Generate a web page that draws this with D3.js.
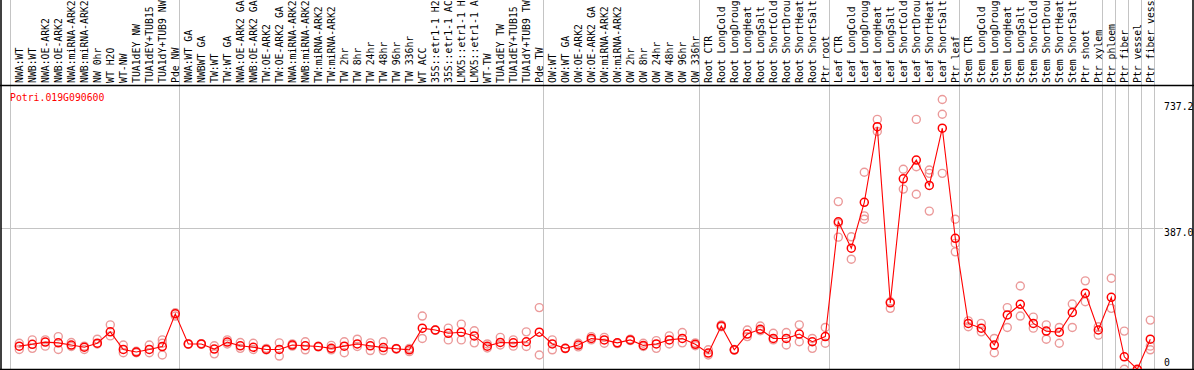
<!DOCTYPE html>
<html>
<head>
<meta charset="utf-8">
<script src="https://cdn.jsdelivr.net/npm/d3@7"></script>
<style>
  html, body { margin: 0; padding: 0; background: #fff; overflow: hidden; }
  svg { display: block; }
  text { font-family: "DejaVu Sans Mono", monospace; font-size: 9.8px; }
</style>
</head>
<body>
<div id="chart"></div>
<script>
// gene shown in the plot
const geneName = "Potri.019G090600";

// sample names, one column each (as printed in the header)
const samples = [
  "NWA:WT", "NWB:WT", "NWA:OE-ARK2", "NWB:OE-ARK2", "NWA:miRNA-ARK2", "NWB:miRNA-ARK2",
  "NW 0hr", "WT H2O", "WT-NW", "TUA1dEY NW", "TUA1dEY+TUB15", "TUA1dY+TUB9 NW", "Pde NW",
  "NWA:WT GA", "NWBWT GA", "TW:WT", "TW:WT GA", "NWA:OE-ARK2 GA", "NWB:OE-ARK2 GA",
  "TW:OE-ARK2", "TW:OE-ARK2 GA", "NWA:miRNA-ARK2", "NWB:miRNA-ARK2", "TW:miRNA-ARK2",
  "TW:miRNA-ARK2", "TW 2hr", "TW 8hr", "TW 24hr", "TW 48hr", "TW 96hr", "TW 336hr",
  "WT ACC", "35S::etr1-1 H2", "35S::etr1-1 AC", "LMX5::etr1-1 H", "LMX5::etr1-1 A",
  "WT-TW", "TUA1dEY TW", "TUA1dEY+TUB15", "TUA1dY+TUB9 TW", "Pde TW",
  "OW:WT", "OW:WT GA", "OW:OE-ARK2", "OW:OE-ARK2 GA", "OW:miRNA-ARK2", "OW:miRNA-ARK2",
  "OW 2hr", "OW 8hr", "OW 24hr", "OW 48hr", "OW 96hr", "OW 336hr",
  "Root CTR", "Root LongCold", "Root LongDroug", "Root LongHeat", "Root LongSalt",
  "Root ShortCold", "Root ShortDrou", "Root ShortHeat", "Root ShortSalt", "Ptr root",
  "Leaf CTR", "Leaf LongCold", "Leaf LongDroug", "Leaf LongHeat", "Leaf LongSalt",
  "Leaf ShortCold", "Leaf ShortDrou", "Leaf ShortHeat", "Leaf ShortSalt", "Ptr leaf",
  "Stem CTR", "Stem LongCold", "Stem LongDroug", "Stem LongHeat", "Stem LongSalt",
  "Stem ShortCold", "Stem ShortDrou", "Stem ShortHeat", "Stem ShortSalt", "Ptr shoot",
  "Ptr xylem", "Ptr phloem", "Ptr fiber", "Ptr vessel", "Ptr fiber vess"
];

// mean expression per sample
const means = [
  65, 70, 76, 74, 68, 62, 73, 104, 56, 49, 56, 64, 153,
  71, 71, 57, 76, 66, 62, 56, 56, 68, 66, 64, 59, 65, 71, 66, 61, 58, 55,
  114, 109, 100, 103, 93, 65, 75, 74, 77, 103,
  71, 59, 68, 86, 82, 74, 82, 67, 71, 82, 86, 70,
  46, 120, 55, 98, 111, 86, 86, 98, 77, 91,
  404, 332, 457, 663, 183, 521, 572, 503, 659, 359,
  127, 114, 68, 150, 179, 127, 106, 103, 157, 209, 109,
  198, 36, 2, 84
];

// single replicate values per sample
const replicates = [
  [73, 56], [82, 59], [82, 65], [91, 56], [75, 64], [65, 56], [84, 71], [123, 93],
  [68, 47], [51, 47], [68, 47], [82, 73, 41], [156, 147],
  [71, 70], [72, 70], [66, 44], [82, 71], [75, 59], [73, 56], [59, 55], [74, 38],
  [71, 65], [77, 55], [65, 63], [67, 55], [77, 47], [84, 64], [74, 53], [77, 53],
  [59, 57], [50, 59],
  [147, 86], [109, 108], [114, 82], [125, 82], [107, 74], [71, 60], [89, 68], [82, 65],
  [104, 64], [170, 41],
  [82, 55], [59, 58], [73, 63], [91, 82], [89, 73], [74, 72], [80, 84], [73, 64],
  [80, 59], [93, 71], [102, 74], [74, 66],
  [55, 41], [123, 118], [56, 54], [109, 91], [120, 107], [100, 82], [102, 68],
  [123, 77], [86, 59], [116, 73],
  [459, 362, 400], [363, 302], [539, 420, 411], [683, 650], [168, 186], [547, 493],
  [683, 554, 479], [545, 536, 433], [737.2, 697, 536], [411, 345, 322],
  [134, 118], [127, 104], [86, 47], [170, 116], [229, 147], [144, 114], [123, 84],
  [116, 73], [180, 116], [243, 186], [118, 95],
  [250, 168], [106, 2], [0, 1], [136, 65, 55]
];

// first column of each sample group (last entry = end)
const groupStarts = [0, 13, 41, 53, 63, 73, 84, 85, 86, 87, 88];

// labels on the value axis
const yTicks = [0, 387.0, 737.2];
const gridTicks = [387.0];

const width = 1194, height = 370;
const headerBottom = 85.5, plotBottom = 369.5;

const svg = d3.select("#chart")
  .append("svg")
  .attr("width", width)
  .attr("height", height);

const x = d3.scaleBand()
  .domain(d3.range(samples.length))
  .range([10.5, 10.5 + 13 * samples.length]);
const cx = i => x(i) + 8.8;

const y = d3.scaleLinear()
  .domain([0, 737.2])
  .range([370, 99.5]);

svg.append("defs").append("clipPath")
  .attr("id", "plotclip")
  .append("rect")
    .attr("x", 1).attr("y", headerBottom)
    .attr("width", width - 2).attr("height", plotBottom - headerBottom - 0.5);

// group separators
svg.selectAll("line.sep")
  .data(groupStarts)
  .enter()
  .append("line")
    .attr("class", "sep")
    .attr("x1", d => x(0) + 13 * d)
    .attr("x2", d => x(0) + 13 * d)
    .attr("y1", 0)
    .attr("y2", plotBottom)
    .attr("stroke", "#c4c4c4")
    .attr("stroke-width", 1);

// horizontal grid
svg.selectAll("line.grid")
  .data(gridTicks)
  .enter()
  .append("line")
    .attr("class", "grid")
    .attr("x1", 1)
    .attr("x2", 1163)
    .attr("y1", d => Math.round(y(d)) + 0.5)
    .attr("y2", d => Math.round(y(d)) + 0.5)
    .attr("stroke", "#c4c4c4")
    .attr("stroke-width", 1);

// frame
svg.append("line")
  .attr("x1", 0).attr("x2", width)
  .attr("y1", headerBottom).attr("y2", headerBottom)
  .attr("stroke", "#000").attr("stroke-width", 1.5);
svg.append("line")
  .attr("x1", 1).attr("x2", 1)
  .attr("y1", 0).attr("y2", height)
  .attr("stroke", "#000").attr("stroke-width", 1.5);
svg.append("line")
  .attr("x1", width - 1).attr("x2", width - 1)
  .attr("y1", 0).attr("y2", height)
  .attr("stroke", "#000").attr("stroke-width", 1.5);
svg.append("line")
  .attr("x1", 0).attr("x2", width)
  .attr("y1", plotBottom).attr("y2", plotBottom)
  .attr("stroke", "#000").attr("stroke-width", 1.5);

// sample labels, vertical, reading upward from the header line
svg.selectAll("text.sample")
  .data(samples)
  .enter()
  .append("text")
    .attr("class", "sample")
    .attr("transform", (d, i) => "translate(" + (cx(i) + 3.6) + "," + 83 + ") rotate(-90)")
    .attr("text-anchor", "start")
    .attr("fill", "#000")
    .text(d => d);

const plot = svg.append("g").attr("clip-path", "url(#plotclip)");

// replicate points
const repPoints = [];
replicates.forEach((r, i) => r.forEach(v => repPoints.push({i: i, v: v})));
plot.selectAll("circle.rep")
  .data(repPoints)
  .enter()
  .append("circle")
    .attr("class", "rep")
    .attr("cx", d => cx(d.i))
    .attr("cy", d => y(d.v))
    .attr("r", 4)
    .attr("fill", "none")
    .attr("stroke", "#eb9a9a")
    .attr("stroke-width", 1.4);

// mean line
const line = d3.line()
  .x((d, i) => cx(i))
  .y(d => y(d));
plot.append("path")
  .datum(means)
  .attr("d", line)
  .attr("fill", "none")
  .attr("stroke", "#ff0000")
  .attr("stroke-width", 1.1);

plot.selectAll("circle.mean")
  .data(means)
  .enter()
  .append("circle")
    .attr("class", "mean")
    .attr("cx", (d, i) => cx(i))
    .attr("cy", d => y(d))
    .attr("r", 4)
    .attr("fill", "none")
    .attr("stroke", "#ff0000")
    .attr("stroke-width", 1.5);

// gene name
svg.append("text")
  .attr("x", 10)
  .attr("y", 101)
  .attr("fill", "#ff0000")
  .text(geneName);

// value labels on the right
svg.selectAll("text.ytick")
  .data(yTicks)
  .enter()
  .append("text")
    .attr("class", "ytick")
    .attr("x", 1164)
    .attr("y", d => Math.max(110, Math.min(366, y(d) + 8)))
    .attr("fill", "#000")
    .text(d => d === 0 ? "0" : d.toFixed(1));
</script>
</body>
</html>
